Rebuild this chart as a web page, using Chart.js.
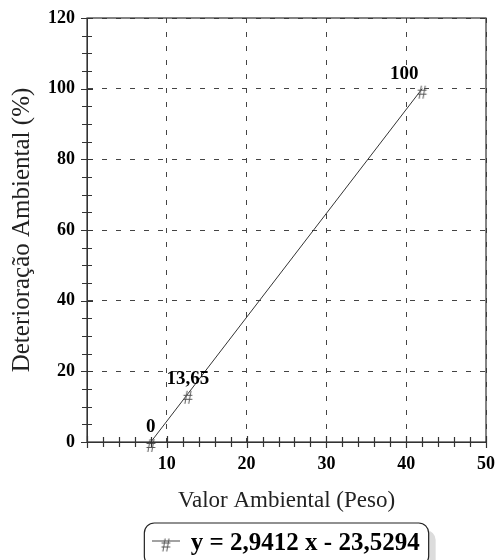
<!DOCTYPE html>
<html>
<head>
<meta charset="utf-8">
<script src="https://cdn.jsdelivr.net/npm/chart.js@4/dist/chart.umd.min.js"></script>
<style>
  html, body { margin: 0; padding: 0; background: #fff; }
  #wrap { width: 499px; height: 560px; }
</style>
</head>
<body>
<div id="wrap"><canvas id="myChart"></canvas></div>
<script>
// data
const xValues = [8, 12.64, 42];
const yValues = [0, 13.65, 100];
const pointLabels = ['0', '13,65', '100'];
const legendText = 'y = 2,9412 x - 23,5294';
const xTitle = 'Valor Ambiental (Peso)';
const yTitle = 'Deterioração Ambiental (%)';

const serif = "'Liberation Serif', 'Times New Roman', serif";

// "#" marker used for the points
function hashMarker() {
  const c = document.createElement('canvas');
  c.width = 16; c.height = 26;
  const g = c.getContext('2d');
  g.fillStyle = '#555';
  g.font = '19px ' + serif;
  g.textAlign = 'center';
  g.textBaseline = 'middle';
  g.fillText('#', 8, 18);
  return c;
}

// line + "#" for the legend
function legendMarker() {
  const c = document.createElement('canvas');
  c.width = 28; c.height = 22;
  const g = c.getContext('2d');
  g.strokeStyle = '#444';
  g.lineWidth = 1;
  g.beginPath(); g.moveTo(0, 8.5); g.lineTo(28, 8.5); g.stroke();
  g.fillStyle = '#555';
  g.font = '19px ' + serif;
  g.textAlign = 'center';
  g.textBaseline = 'middle';
  g.fillText('#', 14, 14);
  return c;
}

const points = xValues.map((x, i) => ({x: x, y: yValues[i]}));

// frame + minor ticks
const axisDecor = {
  id: 'axisDecor',
  afterDraw(chart) {
    const {ctx, chartArea: a, scales} = chart;
    ctx.save();
    ctx.strokeStyle = '#333';
    ctx.lineWidth = 1.2;
    ctx.strokeRect(a.left, a.top, a.right - a.left, a.bottom - a.top);
    ctx.beginPath();
    for (let v = 0; v <= 50; v += 2) {
      const px = Math.round(scales.x.getPixelForValue(v)) + 0.5;
      const len = v % 10 === 0 ? 6 : 5;
      ctx.moveTo(px, a.bottom - len); ctx.lineTo(px, a.bottom + len);
    }
    for (let v = 0; v <= 120; v += 5) {
      const py = Math.round(scales.y.getPixelForValue(v)) + 0.5;
      const len = v % 20 === 0 ? 6 : 5;
      ctx.moveTo(a.left - len, py); ctx.lineTo(a.left + len, py);
    }
    ctx.stroke();
    ctx.restore();
  }
};

// value labels above the points
const valueLabels = {
  id: 'valueLabels',
  afterDatasetsDraw(chart) {
    const ctx = chart.ctx;
    const meta = chart.getDatasetMeta(0);
    ctx.save();
    ctx.fillStyle = '#000';
    ctx.font = 'bold 19px ' + serif;
    ctx.textAlign = 'center';
    ctx.textBaseline = 'middle';
    meta.data.forEach((pt, i) => {
      const dx = i === meta.data.length - 1 ? -18 : 0;
      ctx.fillText(pointLabels[i], pt.x + dx, pt.y - 15);
    });
    ctx.restore();
  }
};

// rounded box with shadow behind the legend
const legendBox = {
  id: 'legendBox',
  beforeDraw(chart) {
    const lg = chart.legend;
    if (!lg || !lg.legendHitBoxes || !lg.legendHitBoxes.length) return;
    const hb = lg.legendHitBoxes[0];
    const x = hb.left - 9, y = hb.top - 8, w = hb.width + 18, h = hb.height + 18;
    const ctx = chart.ctx;
    ctx.save();
    ctx.fillStyle = '#dcdcdc';
    ctx.beginPath(); ctx.roundRect(x + 7, y + 7, w, h, 10); ctx.fill();
    ctx.fillStyle = '#fff';
    ctx.strokeStyle = '#222';
    ctx.lineWidth = 1.2;
    ctx.beginPath(); ctx.roundRect(x, y, w, h, 10); ctx.fill(); ctx.stroke();
    ctx.restore();
  }
};

const legendImg = legendMarker();

new Chart(document.getElementById('myChart'), {
  type: 'scatter',
  data: {
    datasets: [{
      label: legendText,
      data: points,
      showLine: true,
      clip: false,
      borderColor: '#333',
      borderWidth: 1,
      pointStyle: hashMarker(),
      pointRadius: 6,
      pointHoverRadius: 6
    }]
  },
  options: {
    responsive: true,
    maintainAspectRatio: false,
    animation: false,
    layout: { padding: { left: 6, right: 13, top: 18, bottom: -6 } },
    plugins: {
      tooltip: { enabled: false },
      legend: {
        position: 'bottom',
        fullSize: false,
        labels: {
          usePointStyle: true,
          color: '#000',
          font: { family: serif, size: 25, weight: 'bold' },
          padding: 4,
          generateLabels: () => [{
            text: legendText,
            pointStyle: legendImg,
            fontColor: '#000',
            lineWidth: 0,
            datasetIndex: 0
          }]
        }
      }
    },
    scales: {
      x: {
        type: 'linear',
        min: 0, max: 50,
        afterFit: s => { s.height = 85; s.paddingLeft = 0; s.paddingRight = 0; },
        ticks: {
          stepSize: 10, color: '#000', padding: 12,
          font: { family: serif, size: 18, weight: 'bold' },
          callback: v => v === 0 ? '' : v
        },
        grid: { color: '#444', drawTicks: false, lineWidth: 1 },
        border: { display: true, color: '#333', dash: [5, 9] },
        title: { display: true, text: xTitle, color: '#222', font: { family: serif, size: 23 }, padding: { top: 10, bottom: 12 } }
      },
      y: {
        min: 0, max: 120,
        afterFit: s => { s.width = 81; s.paddingTop = 0; s.paddingBottom = 0; },
        ticks: { stepSize: 20, color: '#000', padding: 12, font: { family: serif, size: 18, weight: 'bold' } },
        grid: { color: '#444', drawTicks: false, lineWidth: 1 },
        border: { display: true, color: '#333', dash: [5, 9] },
        title: { display: true, text: yTitle, color: '#222', font: { family: serif, size: 25 }, padding: { top: 1, bottom: 4 } }
      }
    }
  },
  plugins: [legendBox, axisDecor, valueLabels]
});
</script>
</body>
</html>
